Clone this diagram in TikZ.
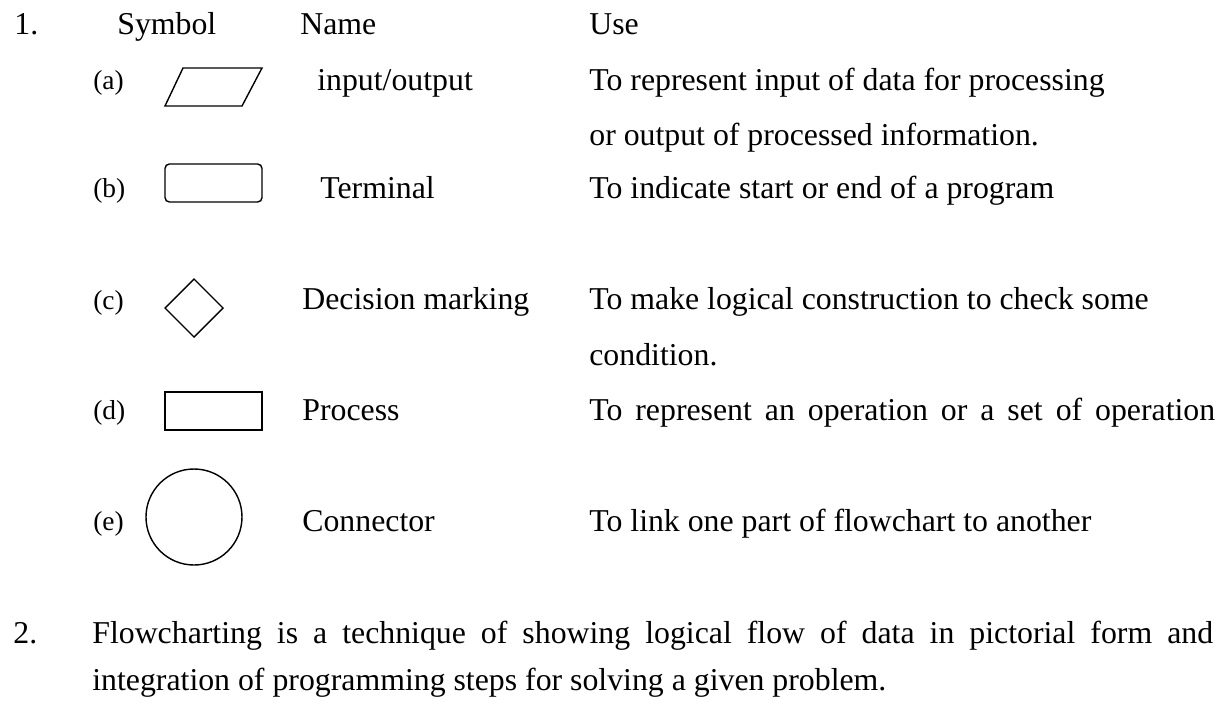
\documentclass[tikz,border=0pt]{standalone}
\usepackage{fontspec}
\setmainfont{Liberation Serif}
\usetikzlibrary{positioning}

\tikzset{
	txt/.style={anchor=base west, inner sep=0pt, font=\fontsize{18.1}{22}\selectfont},
	lbl/.style={txt, font=\fontsize{15.6}{19}\selectfont},
	sym/.style={line width=0.8pt, line join=miter}
}

\begin{document}
\begin{tikzpicture}[x=0.02cm, y=-0.02cm]
	\useasboundingbox (0,0) rectangle (1227,707);

	% heading row
	\node[txt] (one) at (14,34) {1.};
	\node[txt] (symbol) at (117,34) {Symbol};
	\node[txt] (name) at (300,34) {Name};
	\node[txt] (use) at (589,34) {Use};

	% (a) input/output
	\node[lbl] (a) at (93,89) {(a)};
	\draw[sym] (165,106) -- (183,68) -- (262,68) -- (242,106) -- cycle;
	\node[txt] (namea) at (317,90) {input/output};
	\node[txt] (usea) at (589,90) {To represent input of data for processing};
	\node[txt] (usea2) at (589,145) {or output of processed information.};

	% (b) terminal
	\node[lbl] (b) at (93,197) {(b)};
	\draw[sym, rounded corners=2.5pt] (165,164) rectangle (262,202);
	\node[txt] (nameb) at (320,198) {Terminal};
	\node[txt] (useb) at (589,198) {To indicate start or end of a program};

	% (c) decision
	\node[lbl] (c) at (93,309) {(c)};
	\draw[sym] (194,279) -- (223,308) -- (194,337) -- (165,308) -- cycle;
	\node[txt] (namec) at (302,309) {Decision marking};
	\node[txt] (usec) at (589,309) {To make logical construction to check some};
	\node[txt] (usec2) at (589,365) {condition.};

	% (d) process
	\node[lbl] (d) at (93,419) {(d)};
	\draw[sym] (165,392) rectangle (262,430);
	\node[txt] (named) at (302,420) {Process};
	\node[txt] (used) at (589,420) {\makebox[12.52cm][s]{To represent an operation or a set of operation}};

	% (e) connector
	\node[lbl] (e) at (93,530) {(e)};
	\draw[sym] (194,517) circle [radius=48];
	\node[txt] (namee) at (302,531) {Connector};
	\node[txt] (usee) at (589,531) {To link one part of flowchart to another};

	% item 2
	\node[txt] (two) at (13,643) {2.};
	\node[txt] (para) at (92,643) {\makebox[22.42cm][s]{Flowcharting is a technique of showing logical flow of data in pictorial form and}};
	\node[txt] (para2) at (92,690) {integration of programming steps for solving a given problem.};
\end{tikzpicture}
\end{document}
